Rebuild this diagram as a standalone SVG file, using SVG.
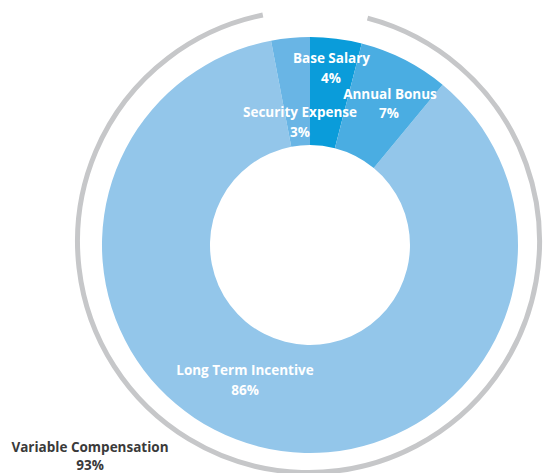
<svg xmlns="http://www.w3.org/2000/svg" width="545" height="473" viewBox="0 0 545 473">
  <style>
    .lbl { font-family: "Open Sans", Lato, "Liberation Sans", sans-serif; font-weight: 700; font-size: 13.5px; fill: #ffffff; text-anchor: middle; }
    .outer { font-family: "Open Sans", Lato, "Liberation Sans", sans-serif; font-weight: 700; font-size: 13.5px; fill: #3a3a3a; text-anchor: middle; }
    .seg { stroke: none; }
  </style>
  <rect width="545" height="473" fill="#ffffff"/>
  <g id="variable-compensation-bracket">
    <path d="M 367.51 18.16 A 231 231 0 1 1 262.84 15.06" fill="none" stroke="#c6c7c9" stroke-width="5"/>
  </g>
  <g id="long-term-incentive">
    <path class="seg" fill="#93c6ea" d="M 442.58 84.73 A 208 208 0 1 1 271.02 40.68 L 291.26 146.77 A 100 100 0 1 0 373.74 167.95 Z"/>
    <text class="lbl" x="245" y="375">Long Term Incentive</text>
    <text class="lbl" x="245" y="395">86%</text>
  </g>
  <g id="security-expense">
    <path class="seg" fill="#69b5e5" d="M 271.02 40.68 A 208 208 0 0 1 310 37 L 310 145 A 100 100 0 0 0 291.26 146.77 Z"/>
  </g>
  <g id="base-salary">
    <path class="seg" fill="#0a9cda" d="M 310 37 A 208 208 0 0 1 361.73 43.54 L 334.87 148.14 A 100 100 0 0 0 310 145 Z"/>
  </g>
  <g id="annual-bonus">
    <path class="seg" fill="#4aade2" d="M 361.73 43.54 A 208 208 0 0 1 442.58 84.73 L 373.74 167.95 A 100 100 0 0 0 334.87 148.14 Z"/>
  </g>
  <g id="labels">
    <text class="lbl" x="331.5" y="63">Base Salary</text>
    <text class="lbl" x="331" y="83">4%</text>
    <text class="lbl" x="390" y="99">Annual Bonus</text>
    <text class="lbl" x="389" y="118">7%</text>
    <text class="lbl" x="300" y="117">Security Expense</text>
    <text class="lbl" x="300" y="137">3%</text>
  </g>
  <g id="variable-compensation-label">
    <text class="outer" x="90" y="451.5">Variable Compensation</text>
    <text class="outer" x="90" y="470">93%</text>
  </g>
</svg>
